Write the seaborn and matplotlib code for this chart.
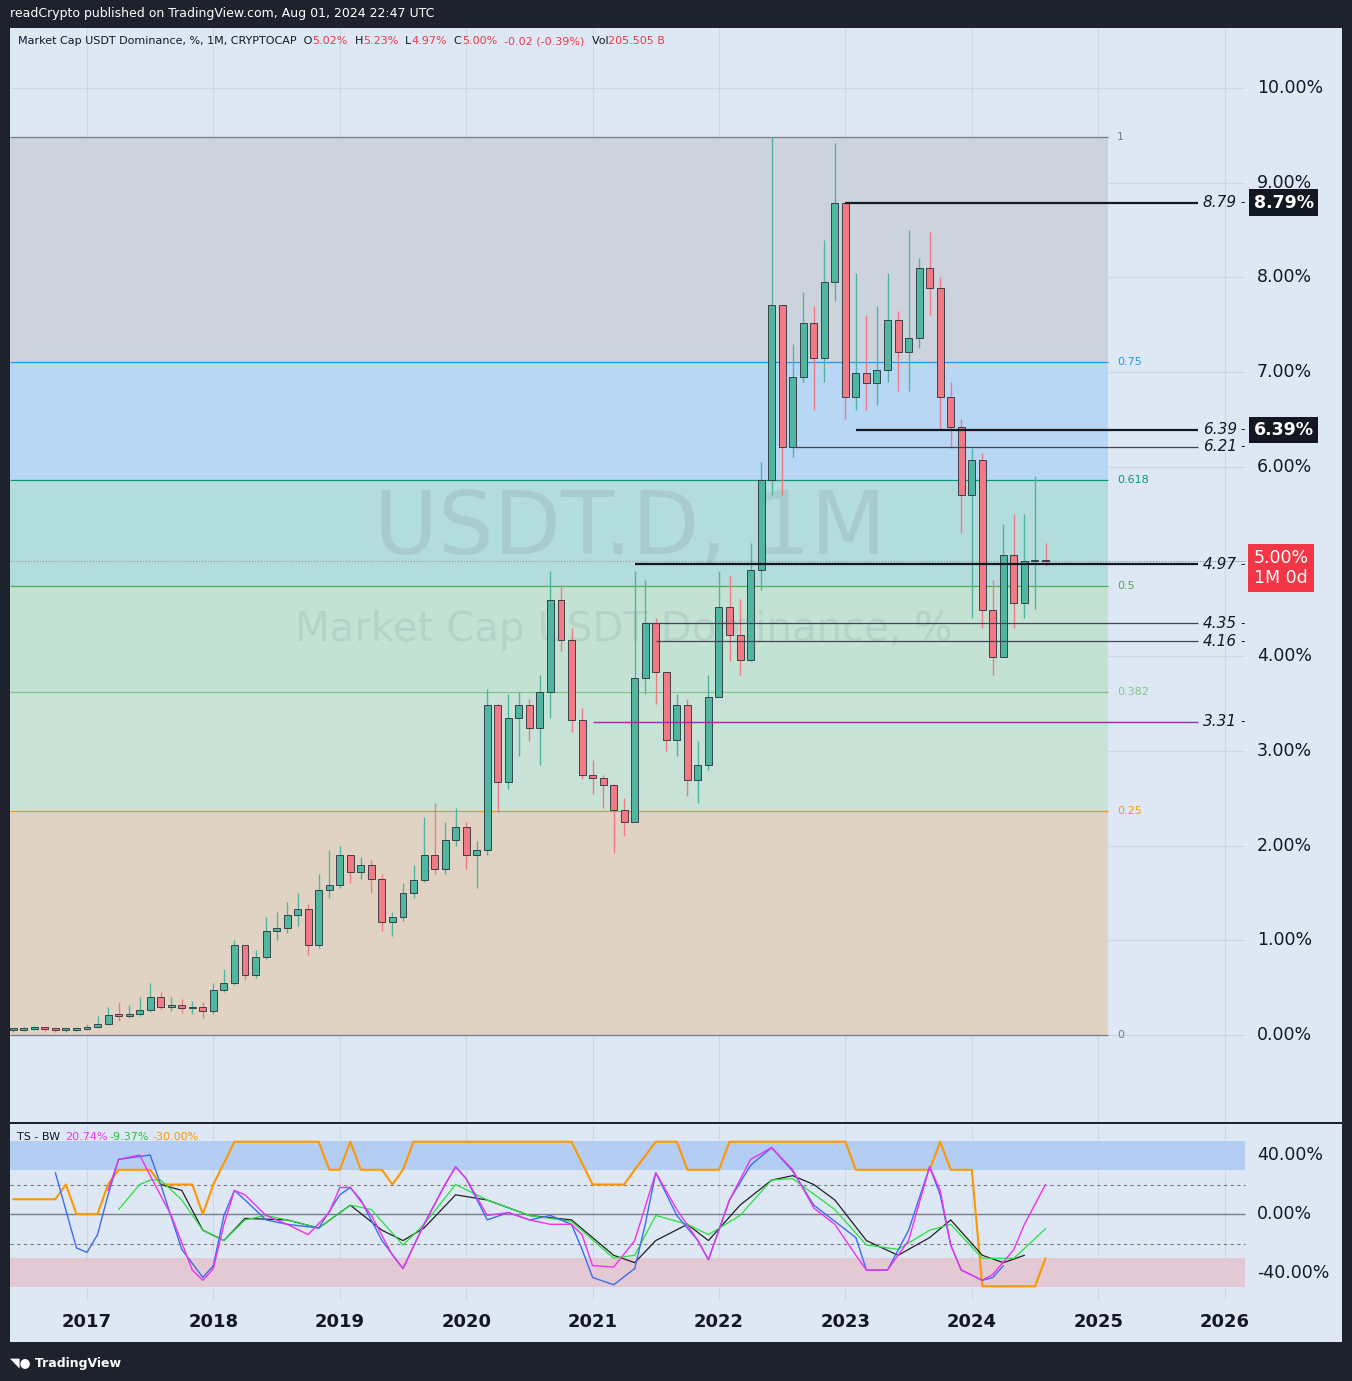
import numpy as np
import pandas as pd
import matplotlib
matplotlib.use("Agg")
import matplotlib.pyplot as plt
import seaborn as sns

# ---------------- data ----------------
start_offset = -7  # first candle = 2016-06 (months from 2017-01)
closes = [0.05,0.06,0.07,0.06,0.05,0.05,0.06,
          0.08,0.12,0.21,0.20,0.22,0.26,0.40,0.30,0.32,0.28,0.30,0.25,
          0.47,0.55,0.95,0.63,0.82,1.10,1.13,1.27,1.33,0.95,1.53,1.58,
          1.90,1.72,1.80,1.65,1.19,1.25,1.50,1.64,1.90,1.75,2.06,2.20,
          1.90,1.95,3.48,2.67,3.35,3.48,3.24,3.62,4.59,4.17,3.33,2.75,
          2.71,2.64,2.38,2.25,3.77,4.35,3.83,3.12,3.48,2.69,2.85,3.57,
          4.52,4.22,3.96,4.91,5.86,7.71,6.21,6.95,7.52,7.15,7.95,8.79,
          6.74,6.99,6.89,7.02,7.55,7.21,7.36,8.10,7.89,6.74,6.42,5.70,
          6.07,4.49,3.99,5.07,4.56,5.00,5.02,5.00]
highs = [0.07,0.08,0.09,0.08,0.07,0.07,0.08,
         0.12,0.20,0.30,0.35,0.32,0.40,0.55,0.45,0.40,0.38,0.36,0.35,
         0.55,0.70,1.00,0.95,0.90,1.25,1.30,1.40,1.50,1.38,1.70,1.95,
         2.00,1.90,1.88,1.85,1.70,1.30,1.60,1.80,2.30,2.45,2.25,2.40,
         2.25,2.05,3.65,3.50,3.60,3.62,3.55,3.80,4.90,4.75,4.30,3.45,
         2.90,2.75,2.65,2.50,4.90,4.80,4.40,3.70,3.60,3.55,3.10,3.80,
         4.90,4.85,4.60,5.20,6.05,9.48,7.50,7.30,7.85,7.70,8.40,9.42,
         8.79,8.05,7.60,7.70,8.05,7.65,8.50,8.20,8.48,8.00,6.90,6.50,
         6.20,6.15,4.80,5.40,5.50,5.50,5.90,5.20]
lows = [0.03,0.04,0.05,0.04,0.03,0.03,0.04,
        0.05,0.07,0.11,0.15,0.18,0.20,0.24,0.27,0.25,0.23,0.22,0.18,
        0.22,0.45,0.53,0.58,0.60,0.80,1.00,1.08,1.15,0.85,0.92,1.45,
        1.55,1.60,1.65,1.50,1.10,1.05,1.20,1.45,1.62,1.70,1.70,2.00,
        1.75,1.55,1.90,2.35,2.60,2.95,3.10,2.85,3.35,4.05,3.20,2.70,
        2.55,2.40,1.92,2.10,2.25,3.60,3.50,3.00,2.95,2.52,2.45,2.80,
        3.60,3.95,3.80,3.95,4.70,5.70,5.70,6.10,6.90,6.60,6.90,7.75,
        6.50,6.60,6.60,6.65,6.90,6.80,6.80,7.25,7.60,6.40,6.20,5.30,
        4.40,4.30,3.80,4.00,4.30,4.40,4.50,4.95]

fib_levels = [1.0, 0.75, 0.618, 0.5, 0.382, 0.25, 0.0]
fib_prices = [9.48, 7.11, 5.86, 4.74, 3.62, 2.37, 0.0]
fib_line_colors = ["#787b86", "#2196f3", "#089981", "#4caf50", "#81c784", "#ff9800", "#787b86"]
fib_fill_colors = ["#cdd3dc", "#b7d7f4", "#b3dcdc", "#c3e2d4", "#c8e2d8", "#e0d3c3"]

levels = [8.79, 6.39, 6.21, 4.97, 4.35, 4.16, 3.31]
level_start = [72, 73, 67, 52, 53, 54, 48]
level_colors = ["#131722", "#131722", "#434651", "#131722", "#434651", "#434651", "#9c27b0"]
level_widths = [1.6, 1.6, 0.9, 1.6, 0.9, 0.9, 1.0]

price_ticks = [0, 1, 2, 3, 4, 6, 7, 8, 9, 10]
year_ticks = list(range(2017, 2027))

blue_m = [-3,-1,0,1,2,3,4,6,7,9,11,12,13,14,15,17,19,22,24,25,26,28,30,32,34,35,36,38,40,42,44,46,47,48,50,52,53,54,56,58,59,61,63,65,67,69,71,73,74,76,78,80,81,82,83,85,86,87]
blue_v = [28,-23,-26,-14,13,37,38,40,20,-24,-43,-35,-1,16,9.5,-4,-7,-9.5,13,18,9.5,-18,-37,-7,20,32,24,-4,1,-4,-1,-7,-24,-43,-48,-37,-7,28,-1,-18,-31,9.5,33,45,29,6,-5,-16,-38,-38,-11,32,13,-21,-38,-45,-43,-35]
mag_m = [2,3,5,6,8,10,11,12,13,14,15,17,19,21,23,24,25,27,29,30,32,34,35,36,38,40,42,44,46,47,48,50,52,54,56,58,59,61,63,65,67,69,71,73,74,76,78,80,81,82,83,85,86,88,89,91]
mag_v = [16,37,40,26,-1,-38,-45,-37,-7,16,13,-1,-7,-14,1,18,18,-1,-28,-37,-7,20,32,24,-1,1,-4,-7,-7,-14,-35,-36,-18,28,3,-18,-31,9.5,37,45,30,4,-7,-28,-38,-38,-18,32,16,-21,-38,-45,-41,-24,-7,20]
green_m = [3,5,6,7,9,11,13,15,17,19,22,25,27,30,32,35,38,42,46,50,52,54,57,59,62,65,67,71,74,77,80,82,85,88,91]
green_v = [3,20,23,23,9.5,-11,-18,-4,-1,-4,-9.5,6,3,-21,-7,20,9.5,-1,-5,-30,-28,-1,-7,-14,-1,23,24,3,-21,-24,-11,-7,-30,-30,-10]
black_m = [7,9,11,13,15,19,22,25,28,30,32,35,38,42,46,50,52,54,57,59,62,65,67,69,71,74,77,80,82,85,87,89]
black_v = [20,16,-11,-18,-3,-4,-9.5,6,-11,-18,-9.5,13,9.5,-1,-4,-28,-33,-18,-7,-18,6,23,26,20,9.5,-18,-28,-16,-4,-28,-33,-28]
orange_m = [-7,-3,-2,-1,1,2,3,6,7,10,11,12,14,22,23,24,25,26,28,29,30,31,46,48,51,52,54,56,57,60,61,72,73,80,81,82,84,85,90,91]
orange_v = [10,10,20,0,0,20,30,30,20,20,0,20,49,49,30,30,49,30,30,20,30,49,49,20,20,30,49,49,30,30,49,49,30,30,49,30,30,-49,-49,-30]
ind_ticks = [40, 0, -40]

# ---------------- helpers ----------------
def yr(m):
    return 2017 + np.asarray(m, dtype=float) / 12.0

BG = "#dde8f4"
DARK = "#1e222d"
X0, X1 = 2016.391, 2026.929
ZONE_END = 2025.077
LEVEL_END = 2025.79
PLOT_END = 2026.16
LBL_X = 2026.256

sns.set_theme(style="white")
fig = plt.figure(figsize=(13.52, 13.81), dpi=100, facecolor=DARK)
W, H = 1352, 1381
def ax_rect(l, t, r, b):
    return [l / W, 1 - b / H, (r - l) / W, (b - t) / H]

ax = fig.add_axes(ax_rect(10, 28, 1342, 1122))
axi = fig.add_axes(ax_rect(10, 1124, 1342, 1342))
for a in (ax, axi):
    a.set_facecolor(BG)
    a.set_xlim(X0, X1)
    for s in a.spines.values():
        s.set_visible(False)
    a.set_xticks([]); a.set_yticks([])

ax.set_ylim((1035 - 1122) / 94.7, (1035 - 28) / 94.7)
axi.set_ylim((1214 - 1342) / 1.475, (1214 - 1124) / 1.475)

# grid
for y in year_ticks:
    ax.axvline(y, color="#cbd8e6", lw=0.8, zorder=0)
    axi.vlines(y, -58, 60, color="#cbd8e6", lw=0.8, zorder=0)
for p in price_ticks + [5]:
    ax.hlines(p, X0, PLOT_END, color="#cbd8e6", lw=0.8, zorder=0)

# fib zones
for i in range(len(fib_prices) - 1):
    ax.fill_between([X0, ZONE_END], fib_prices[i + 1], fib_prices[i],
                    color=fib_fill_colors[i], zorder=1, lw=0)
for lv, p, c in zip(fib_levels, fib_prices, fib_line_colors):
    ax.hlines(p, X0, ZONE_END, color=c, lw=0.9, zorder=2)
    ax.text(2025.15, p, f"{lv:g}", color=c, fontsize=8, va="center", ha="left")

# watermark
ax.text(2021.30, 5.33, "USDT.D, 1M", fontsize=63, color="#8a9aa6", alpha=0.25,
        ha="center", va="center", zorder=2)
ax.text(2021.25, 4.28, "Market Cap USDT Dominance, %", fontsize=29, color="#8a9aa6",
        alpha=0.22, ha="center", va="center", zorder=2)

# candles
n = len(closes)
months = np.arange(start_offset, start_offset + n)
opens = [closes[0]] + closes[:-1]
df = pd.DataFrame({"t": yr(months), "o": opens, "c": closes, "h": highs, "l": lows})
df["up"] = df["c"] >= df["o"]
up_c, dn_c = "#4fb79f", "#f27a84"
cols = np.where(df["up"], up_c, dn_c)
ax.vlines(df["t"], df["l"], df["h"], colors=cols, lw=1.0, zorder=3)
bottoms = np.minimum(df["o"], df["c"])
heights = np.maximum(np.abs(df["c"] - df["o"]), 0.02)
ax.bar(df["t"], heights, bottom=bottoms, width=0.055, color=cols,
       edgecolor="#2a2e39", linewidth=0.6, zorder=4)

# levels
for lv, s, c, w in zip(levels, level_start, level_colors, level_widths):
    ax.hlines(lv, yr(s), LEVEL_END, color=c, lw=w, zorder=5)
    ax.text(2026.098, lv, f"{lv:.2f}", fontsize=11, style="italic", color="#131722",
            ha="right", va="center")
    ax.text(2026.14, lv, "-", fontsize=9, color="#131722", ha="center", va="center")
ax.hlines(closes[-1], X0, PLOT_END, color="#9598a1", lw=0.8, ls=":", zorder=2)

# price axis labels
for p in price_ticks:
    ax.text(LBL_X, p, f"{p:.2f}%", fontsize=12.5, color="#131722", ha="left", va="center")
box = dict(boxstyle="square,pad=0.25", fc="#131722", ec="none")
for p in (8.79, 6.39):
    ax.text(2026.23, p, f"{p:.2f}%", fontsize=12.5, fontweight="bold", color="white",
            ha="left", va="center", bbox=box, zorder=10)
ax.text(2026.23, closes[-1] + 0.13, f"{closes[-1]:.2f}%\n1M 0d", fontsize=12.5, color="white",
        ha="left", va="top", linespacing=1.15, zorder=10,
        bbox=dict(boxstyle="square,pad=0.3", fc="#f23645", ec="none"))

# indicator
axi.fill_between([X0, PLOT_END], 30, 49.5, color="#b4cdf2", zorder=1, lw=0)
axi.fill_between([X0, PLOT_END], -49.5, -30, color="#e3c9d3", zorder=1, lw=0)
axi.hlines(0, X0, PLOT_END, color="#787b86", lw=1.0, zorder=2)
for v in (20, -20):
    axi.hlines(v, X0, PLOT_END, color="#787b86", lw=0.8, ls=(0, (3, 3)), zorder=2)
sns.lineplot(x=yr(orange_m), y=orange_v, ax=axi, color="#ff9800", lw=1.5, sort=False, zorder=3)
sns.lineplot(x=yr(black_m), y=black_v, ax=axi, color="#202020", lw=0.9, sort=False, zorder=4)
sns.lineplot(x=yr(green_m), y=green_v, ax=axi, color="#27e23a", lw=0.9, sort=False, zorder=4)
sns.lineplot(x=yr(blue_m), y=blue_v, ax=axi, color="#3b6df0", lw=1.0, sort=False, zorder=5)
sns.lineplot(x=yr(mag_m), y=mag_v, ax=axi, color="#f030f0", lw=1.0, sort=False, zorder=6)
axi.set_xlim(X0, X1)
axi.set_xlabel(""); axi.set_ylabel("")
axi.set_xticks([]); axi.set_yticks([])
for v in ind_ticks:
    axi.text(LBL_X, v, f"{v:.2f}%", fontsize=12.5, color="#131722", ha="left", va="center")
for y in year_ticks:
    axi.text(y, -73.2, str(y), fontsize=13, fontweight="bold", color="#131722",
             ha="center", va="center")
axi.text(2016.45, 52.5, "TS - BW", fontsize=8, color="#131722", va="center")
axi.text(2016.83, 52.5, "20.74%", fontsize=8, color="#f030f0", va="center")
axi.text(2017.18, 52.5, "-9.37%", fontsize=8, color="#27c23a", va="center")
axi.text(2017.52, 52.5, "-30.00%", fontsize=8, color="#ff9800", va="center")

# header texts
fig.text(10 / W, 1 - 14 / H, "readCrypto published on TradingView.com, Aug 01, 2024 22:47 UTC",
         color="white", fontsize=9, va="center")
parts = [("Market Cap USDT Dominance, %, 1M, CRYPTOCAP  O", "#131722"), ("5.02%", "#f23645"),
         ("  H", "#131722"), ("5.23%", "#f23645"), ("  L", "#131722"), ("4.97%", "#f23645"),
         ("  C", "#131722"), ("5.00%", "#f23645"), ("  -0.02 (-0.39%)", "#f23645"),
         ("  Vol", "#131722"), ("205.505 B", "#f23645")]
xpos = 18
for txt, c in parts:
    t = fig.text(xpos / W, 1 - 41 / H, txt, color=c, fontsize=8, va="center")
    fig.canvas.draw()
    bb = t.get_window_extent()
    xpos += bb.width
fig.text(10 / W, 1 - 1363 / H, "\u25e5\u25cf TradingView", color="white", fontsize=9,
         fontweight="bold", va="center")

fig.savefig("out.png", dpi=100, facecolor=DARK)
